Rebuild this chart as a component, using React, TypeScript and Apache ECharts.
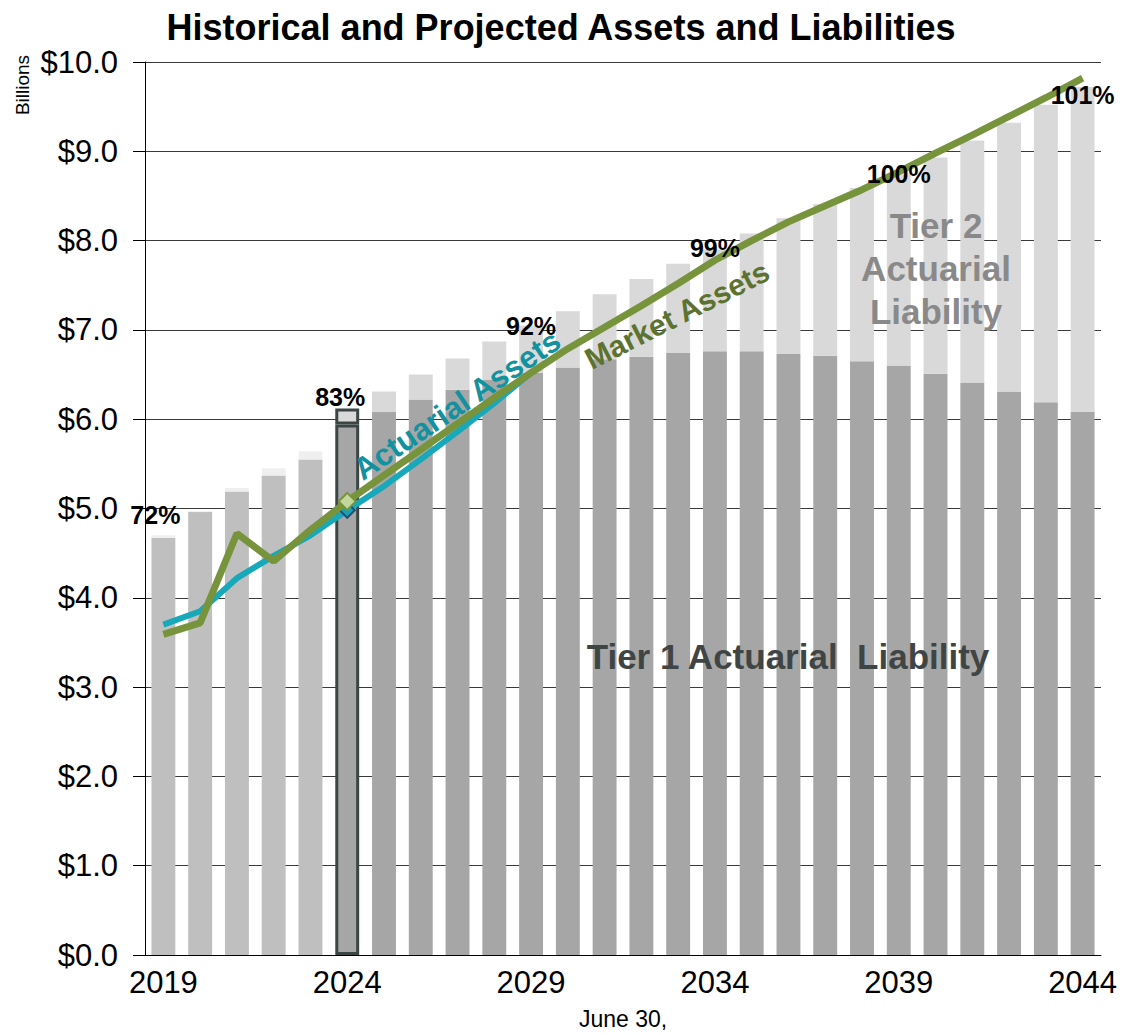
import React, { useEffect, useRef } from "react";
import * as echarts from "echarts";

const years = ["2019","2020","2021","2022","2023","2024","2025","2026","2027","2028","2029","2030","2031","2032","2033","2034","2035","2036","2037","2038","2039","2040","2041","2042","2043","2044"];
const tier1 = [4.67,4.96,5.19,5.37,5.55,5.94,6.08,6.22,6.33,6.44,6.52,6.58,6.67,6.70,6.74,6.76,6.76,6.73,6.71,6.65,6.60,6.51,6.41,6.31,6.19,6.08];
const tier2 = [0.03,0.01,0.04,0.08,0.09,0.18,0.23,0.28,0.35,0.43,0.53,0.63,0.73,0.87,1.00,1.14,1.32,1.52,1.70,1.94,2.14,2.42,2.71,3.01,3.33,3.64];
const marketAssets = [3.59,3.72,4.72,4.41,4.76,5.08,5.37,5.66,5.95,6.24,6.52,6.79,7.03,7.27,7.52,7.78,8.00,8.21,8.39,8.57,8.77,8.98,9.18,9.39,9.60,9.82];
const actuarialAssets = [3.70,3.85,4.22,4.47,4.70,4.98,5.25,5.55,5.86,6.18,6.52];
const fundedLabels: Record<number, string> = { 0: "72%", 5: "83%", 10: "92%", 15: "99%", 20: "100%", 25: "101%" };
const labelOffsets: Record<number, number[]> = { 0: [-8, -3], 5: [-7, 6], 10: [0, 18], 15: [0, 16], 20: [0, 17], 25: [0, 25] };
const yTicks = [0, 10, 1];
const HIST_END = 4;
const VAL_YEAR = 5;

const FONT = "'Liberation Sans', Arial, sans-serif";

export default function App() {
  const ref = useRef<HTMLDivElement>(null);
  useEffect(() => {
    document.body.style.margin = "0";
    const chart = echarts.init(ref.current!, null, { renderer: "svg" });
    const border = "#3b4644";
    const t1Data = tier1.map((v, i) => ({
      value: v,
      itemStyle: i <= HIST_END
        ? { color: "#bfbfbf" }
        : i === VAL_YEAR
          ? { color: "#a6a6a6", borderColor: border, borderWidth: 3 }
          : { color: "#a6a6a6" },
    }));
    const t2Data = tier2.map((v, i) => ({
      value: v,
      itemStyle: i <= HIST_END
        ? { color: "#efefef" }
        : i === VAL_YEAR
          ? { color: "#d9d9d9", borderColor: border, borderWidth: 3 }
          : { color: "#d9d9d9" },
    }));
    const labelData = years.map((_, i) =>
      fundedLabels[i]
        ? {
            value: 0,
            label: {
              show: true,
              position: "top",
              distance: 5,
              formatter: fundedLabels[i],
              offset: labelOffsets[i],
              fontSize: 25,
              fontWeight: "bold",
              color: "#000",
              fontFamily: FONT,
            },
          }
        : "-"
    );
    const mData = marketAssets.map((v, i) =>
      i === VAL_YEAR
        ? { value: v, symbol: "diamond", symbolSize: 17, itemStyle: { color: "#c3d69b", borderColor: "#77933c", borderWidth: 2 } }
        : { value: v }
    );
    const aData = actuarialAssets.map((v, i) =>
      i === VAL_YEAR
        ? { value: v, symbol: "diamond", symbolSize: 15, itemStyle: { color: "#17a2b4", borderColor: "#1f4e79", borderWidth: 2 } }
        : { value: v }
    );
    chart.setOption({
      animation: false,
      backgroundColor: "#fff",
      textStyle: { fontFamily: FONT },
      title: {
        text: "Historical and Projected Assets and Liabilities",
        left: "center",
        top: 4,
        textStyle: { fontSize: 36, fontWeight: "bold", color: "#000", fontFamily: FONT },
      },
      grid: { left: 145, right: 21, top: 62, bottom: 77 },
      xAxis: {
        type: "category",
        data: years,
        axisLine: { show: true, lineStyle: { color: "#000", width: 1 } },
        axisTick: { show: false },
        axisLabel: { interval: 4, fontSize: 31, color: "#000", margin: 12, fontFamily: FONT },
        name: "June 30,",
        nameLocation: "middle",
        nameGap: 52,
        nameTextStyle: { fontSize: 23, color: "#000", fontFamily: FONT },
      },
      yAxis: {
        type: "value",
        min: yTicks[0],
        max: yTicks[1],
        interval: yTicks[2],
        axisLine: { show: true, lineStyle: { color: "#000", width: 1 } },
        axisTick: { show: true, length: 12, lineStyle: { color: "#000" } },
        axisLabel: { formatter: (v: number) => "$" + v.toFixed(1), fontSize: 31, color: "#000", margin: 27, fontFamily: FONT },
        splitLine: { show: true, lineStyle: { color: "#3a3a3a", width: 1 } },
      },
      series: [
        { type: "bar", name: "Tier 1", stack: "liab", data: t1Data, barWidth: "65%", z: 2 },
        { type: "bar", name: "Tier 2", stack: "liab", data: t2Data, barWidth: "65%", z: 2 },
        {
          type: "line", name: "Actuarial Assets", data: aData, symbol: "none", showSymbol: true,
          lineStyle: { color: "#17a8ba", width: 6 }, itemStyle: { color: "#17a8ba" }, z: 3,
        },
        {
          type: "line", name: "Market Assets", data: mData, symbol: "none", showSymbol: true,
          lineStyle: { color: "#77933c", width: 7 }, itemStyle: { color: "#77933c" }, z: 4,
        },
        {
          type: "bar", name: "Funded", stack: "liab", data: labelData, barWidth: "65%", z: 6,
          itemStyle: { color: "transparent" },
        },
      ],
      graphic: [
        {
          type: "text", x: 22, y: 85, rotation: Math.PI / 2,
          style: { text: "Billions", font: `19px ${FONT}`, fill: "#000", align: "center", verticalAlign: "middle" },
        },
        {
          type: "text", x: 457, y: 405, rotation: 34 * Math.PI / 180, z: 10,
          style: { text: "Actuarial Assets", font: `bold 31px ${FONT}`, fill: "#12919f", align: "center", verticalAlign: "middle" },
        },
        {
          type: "text", x: 677, y: 315, rotation: 27 * Math.PI / 180, z: 10,
          style: { text: "Market Assets", font: `bold 30px ${FONT}`, fill: "#5b7230", align: "center", verticalAlign: "middle" },
        },
        {
          type: "text", x: 788, y: 656, z: 10,
          style: { text: "Tier 1 Actuarial  Liability", font: `bold 35px ${FONT}`, fill: "#3f4544", align: "center", verticalAlign: "middle" },
        },
        {
          type: "text", x: 936, y: 268, z: 10,
          style: { text: "Tier 2\nActuarial\nLiability", font: `bold 35px ${FONT}`, lineHeight: 43, fill: "#898989", align: "center", verticalAlign: "middle" },
        },
      ],
    });
    return () => chart.dispose();
  }, []);
  return <div ref={ref} style={{ width: 1122, height: 1035 }} />;
}
